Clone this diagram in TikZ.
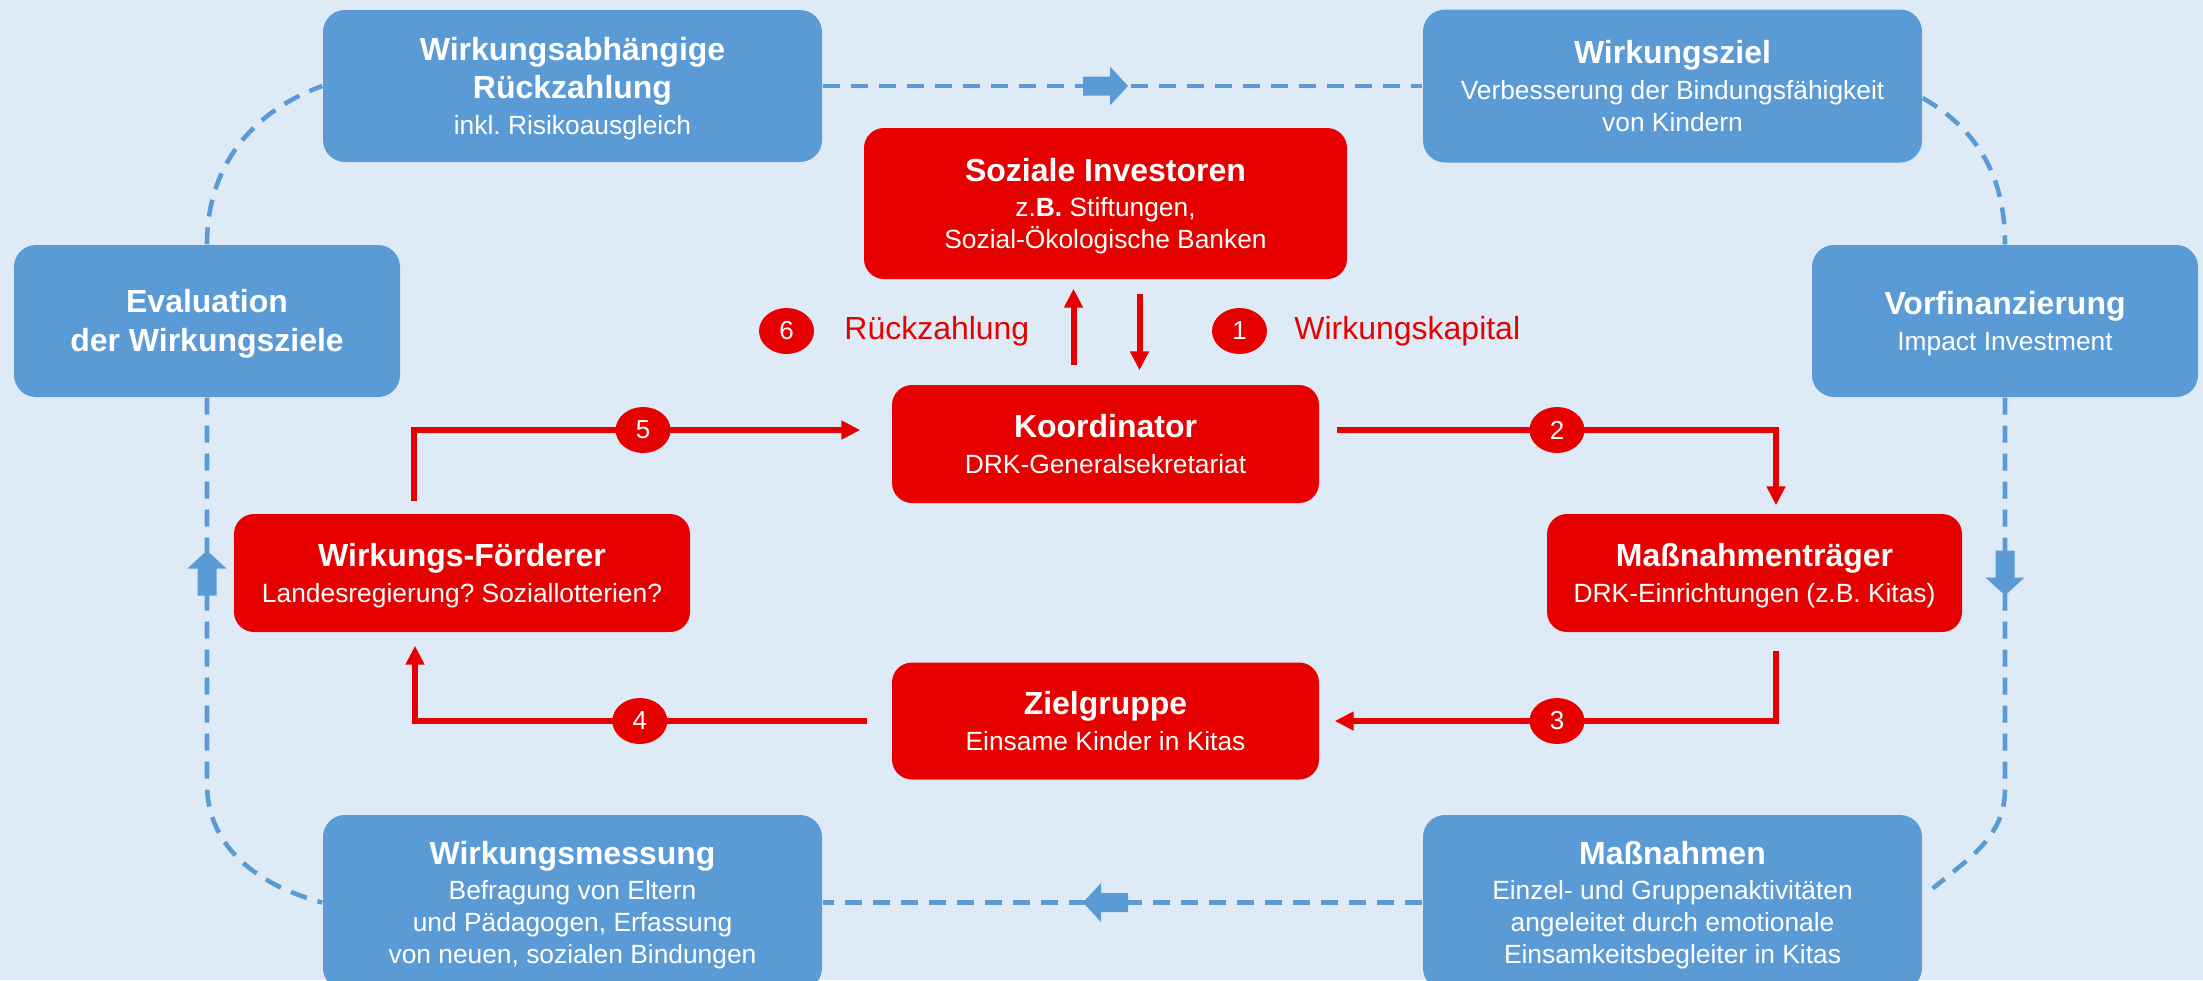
\documentclass[tikz,border=0pt]{standalone}
\usepackage{fontspec}
\setmainfont{Liberation Sans}
\usetikzlibrary{positioning, arrows.meta, shapes.geometric}
\frenchspacing

\definecolor{drkred}{RGB}{230,0,0}
\definecolor{loopblue}{RGB}{91,155,213}
\definecolor{bgblue}{RGB}{222,235,247}

\newcommand{\boxtitle}{\fontsize{9.1pt}{10.8pt}\selectfont\bfseries}
\newcommand{\boxhead}{\boxtitle\rule{0pt}{8.2pt}}
\newcommand{\boxsub}{\fontsize{7.5pt}{9.1pt}\selectfont}

\tikzset{
  bluebox/.style={rounded corners=0.22cm, fill=loopblue, text=white, align=center, inner sep=0.05cm, text depth=1.7pt, font=\boxsub},
  redbox/.style={rounded corners=0.2cm, fill=drkred, text=white, align=center, inner sep=0.05cm, text depth=1.7pt, font=\boxsub},
  numdot/.style={ellipse, fill=drkred, text=white, minimum width=0.55cm, minimum height=0.46cm, inner sep=0pt, font=\fontsize{7.4pt}{8pt}\selectfont},
  redlabel/.style={text=drkred, inner sep=0pt, font=\fontsize{9.1pt}{10.8pt}\selectfont},
  redarr/.style={draw=drkred, line width=1.7pt, -{Triangle[length=0.19cm, width=0.18cm]}},
  loopline/.style={draw=loopblue, line width=1.3pt, dash pattern=on 0.17cm off 0.11cm},
  fatarr/.pic={\fill[loopblue] (-0.225,-0.095) -- (0.045,-0.095) -- (0.045,-0.195) -- (0.225,0) -- (0.045,0.195) -- (0.045,0.095) -- (-0.225,0.095) -- cycle;}
}

\begin{document}
\begin{tikzpicture}
    % Page frame and background
    \useasboundingbox (0,0) rectangle (22.03,9.8);
    \clip (0,0) rectangle (22.03,9.8);
    \fill[bgblue] (0,0) rectangle (22.03,9.8);

    % Outer cycle - blue boxes
    \node[bluebox, minimum width=4.99cm, minimum height=1.52cm] (rueck) at (5.725,8.94) {
      {\boxhead Wirkungsabhängige}\\[1.7pt]{\boxtitle Rückzahlung}\\[1pt]inkl. Risikoausgleich
    };
    \node[bluebox, minimum width=4.99cm, minimum height=1.53cm] (zielw) at (16.725,8.94) {
      {\boxhead Wirkungsziel}\\[1pt]Verbesserung der Bindungsfähigkeit\\von Kindern
    };
    \node[bluebox, minimum width=3.86cm, minimum height=1.52cm] (eval) at (2.07,6.59) {
      {\boxhead Evaluation}\\[2pt]{\boxtitle der Wirkungsziele}
    };
    \node[bluebox, minimum width=3.86cm, minimum height=1.52cm] (vorf) at (20.05,6.59) {
      {\boxhead Vorfinanzierung}\\[1pt]Impact Investment
    };
    \node[bluebox, minimum width=4.99cm, minimum height=1.75cm] (messung) at (5.725,0.775) {
      {\boxhead Wirkungsmessung}\\[1pt]Befragung von Eltern\\und Pädagogen, Erfassung\\von neuen, sozialen Bindungen
    };
    \node[bluebox, minimum width=4.99cm, minimum height=1.75cm] (mass) at (16.725,0.775) {
      {\boxhead Maßnahmen}\\[1pt]Einzel- und Gruppenaktivitäten\\angeleitet durch emotionale\\Einsamkeitsbegleiter in Kitas
    };

    % Inner flow - red boxes
    \node[redbox, minimum width=4.83cm, minimum height=1.51cm] (soz) at (11.055,7.765) {
      {\boxhead Soziale Investoren}\\[1pt]z.\textbf{B.} Stiftungen,\\Sozial-Ökologische Banken
    };
    \node[redbox, minimum width=4.27cm, minimum height=1.18cm] (kord) at (11.055,5.36) {
      {\boxhead Koordinator}\\[1pt]DRK-Generalsekretariat
    };
    \node[redbox, minimum width=4.56cm, minimum height=1.18cm] (foe) at (4.62,4.07) {
      {\boxhead Wirkungs-Förderer}\\[1pt]Landesregierung? Soziallotterien?
    };
    \node[redbox, minimum width=4.15cm, minimum height=1.18cm] (mtr) at (17.545,4.07) {
      {\boxhead Maßnahmenträger}\\[1pt]DRK-Einrichtungen (z.B. Kitas)
    };
    \node[redbox, minimum width=4.27cm, minimum height=1.17cm] (zg) at (11.055,2.59) {
      {\boxhead Zielgruppe}\\[1pt]Einsame Kinder in Kitas
    };

    % Dashed cycle
    \draw[loopline] (rueck) -- (zielw);
    \draw[loopline] ([yshift=-0.12cm]zielw.east) to[out=-30, in=90] (vorf.north);
    \draw[loopline] (vorf.south) -- ++(0,-3.91) to[out=-90, in=40] ([xshift=0.1cm, yshift=0.14cm]mass.east);
    \draw[loopline] (mass) -- (messung);
    \draw[loopline] (eval.south) -- ++(0,-3.86) to[out=-90, in=165] (messung.west);
    \draw[loopline] (eval.north) to[out=90, in=-160] (rueck.west);

    % Direction of the cycle
    \pic at (soz |- rueck) {fatarr};
    \pic[rotate=-90] at (vorf |- mtr) {fatarr};
    \pic[rotate=180] at (soz |- messung) {fatarr};
    \pic[rotate=90] at (eval |- foe) {fatarr};

    % Capital and repayment between investors and coordinator
    \draw[redarr, shorten <=0.19cm, shorten >=0.09cm] ([xshift=-0.32cm]kord.north) -- ([xshift=-0.32cm]soz.south);
    \draw[redarr, shorten <=0.14cm, shorten >=0.14cm] ([xshift=0.34cm]soz.south) -- ([xshift=0.34cm]kord.north);
    \node[numdot] (n6) at (7.865,6.49) {6};
    \node[redlabel, right=0.29cm of n6] (lab6) {Rückzahlung};
    \node[numdot] (n1) at (12.395,6.49) {1};
    \node[redlabel, right=0.26cm of n1] (lab1) {Wirkungskapital};

    % Numbered steps 2 to 5
    \draw[redarr, shorten <=0.17cm, shorten >=0.08cm] ([yshift=0.14cm]kord.east) -| ([xshift=0.215cm]mtr.north) node[numdot, pos=0.26] (n2) {2};
    \draw[redarr, shorten <=0.18cm, shorten >=0.15cm] ([xshift=0.215cm]mtr.south) |- (zg.east) node[numdot, pos=0.74] (n3) {3};
    \draw[redarr, shorten <=0.24cm, shorten >=0.13cm] (zg.west) -| ([xshift=-0.47cm]foe.south) node[numdot, pos=0.264] (n4) {4};
    \draw[redarr, shorten <=0.12cm, shorten >=0.31cm] ([xshift=-0.48cm]foe.north) |- ([yshift=0.14cm]kord.west) node[numdot, pos=0.74] (n5) {5};
  \end{tikzpicture}
\end{document}
